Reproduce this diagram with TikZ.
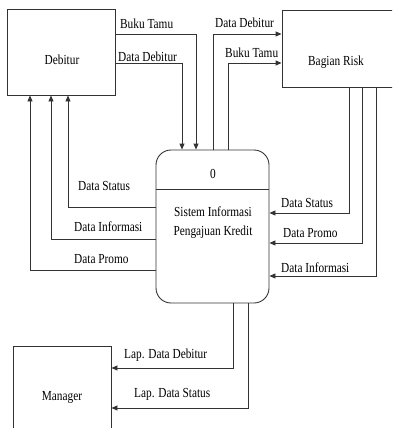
\documentclass[tikz,border=0pt]{standalone}
\usepackage{fontspec}
\setmainfont{Liberation Serif}[FakeStretch=0.82]
\usetikzlibrary{arrows.meta}
\begin{document}
\begin{tikzpicture}[x=1pt,y=-1pt,
  every node/.style={font=\fontsize{13.8}{16}\selectfont},
  entity/.style={draw=black!80,line width=0.9pt,rectangle,inner sep=0},
  procbox/.style={draw=black!80,line width=0.9pt,rectangle,rounded corners=15pt,inner sep=0,minimum width=113pt,minimum height=153pt},
  flow/.style={draw=black!80,line width=0.9pt,-{Triangle[length=6pt,width=5pt]}},
  lbl/.style={anchor=base west,inner sep=0},
  txt/.style={anchor=base,inner sep=0}]
\clip (0,0) rectangle (392,428);
\fill[white] (0,0) rectangle (392,428);
% entities
\node[entity,minimum width=108pt,minimum height=86pt] (deb) at (61,52) {};
\node[entity,minimum width=114pt,minimum height=77pt] (risk) at (339,48.5) {};
\node[entity,minimum width=98pt,minimum height=90pt] (man) at (62,391) {};
\node[procbox] (proc) at (212.5,226.5) {};
\draw[draw=black!80,line width=0.9pt] (proc.west |- 0,189) -- (proc.east |- 0,189);
% texts in boxes
\node[txt] (tdeb) at (62,64) {Debitur};
\node[txt] (trisk) at (336,66) {Bagian Risk};
\node[txt] (tman) at (62,400) {Manager};
\node[txt] (tzero) at (213,178) {0};
\node[txt] (tsis1) at (213,216) {Sistem Informasi};
\node[txt] (tsis2) at (213,235) {Pengajuan Kredit};
% flows Debitur -> process
\draw[flow] (deb.east |- 0,34) -| (proc.north -| 196,0);
\draw[flow] (deb.east |- 0,63) -| (proc.north -| 182,0);
% process -> Bagian Risk
\draw[flow] (proc.north -| 213,0) |- (risk.west |- 0,34);
\draw[flow] (proc.north -| 228,0) |- (risk.west |- 0,63);
% Bagian Risk -> process
\draw[flow] (risk.south -| 349,0) |- (proc.east |- 0,213);
\draw[flow] (risk.south -| 362,0) |- (proc.east |- 0,243);
\draw[flow] (risk.south -| 376,0) |- (proc.east |- 0,276);
% process -> Debitur
\draw[flow] (proc.west |- 0,207) -| (deb.south -| 68,0);
\draw[flow] (proc.west |- 0,239) -| (deb.south -| 51,0);
\draw[flow] (proc.west |- 0,270) -| (deb.south -| 30,0);
% process -> Manager
\draw[flow] (proc.south -| 233,0) |- (man.east |- 0,368);
\draw[flow] (proc.south -| 248,0) |- (man.east |- 0,408);
% labels
\node[lbl] (l1) at (120,29) {Buku Tamu};
\node[lbl] (l2) at (118,61) {Data Debitur};
\node[lbl] (l3) at (215,28) {Data Debitur};
\node[lbl] (l4) at (225,58) {Buku Tamu};
\node[lbl] (l5) at (281,207) {Data Status};
\node[lbl] (l6) at (283,237) {Data Promo};
\node[lbl] (l7) at (281,272) {Data Informasi};
\node[lbl] (l8) at (78,190) {Data Status};
\node[lbl] (l9) at (74,231) {Data Informasi};
\node[lbl] (l10) at (74,263) {Data Promo};
\node[lbl] (l11) at (124,358) {Lap. Data Debitur};
\node[lbl] (l12) at (134,397) {Lap. Data Status};
\end{tikzpicture}
\end{document}
